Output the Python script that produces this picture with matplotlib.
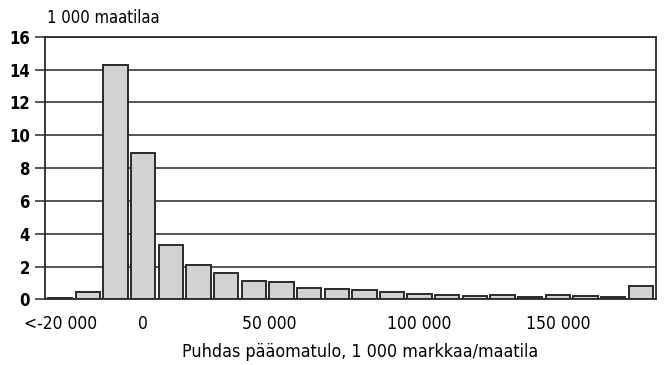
import matplotlib.pyplot as plt

# Puhdas pääomatulo -luokat (10 000 mk välein), maatiloja 1 000 kpl
bar_index = list(range(22))
farms = [0.09, 0.44, 14.3, 8.9, 3.3, 2.12, 1.63, 1.11, 1.05, 0.70, 0.64,
         0.60, 0.48, 0.36, 0.27, 0.20, 0.27, 0.18, 0.30, 0.22, 0.18, 0.80]
tick_pos = [0, 3, 7.55, 13, 18]
tick_labels = ["<-20 000", "0", "50 000", "100 000", "150 000"]
y_ticks = [0, 2, 4, 6, 8, 10, 12, 14, 16]

plt.rcParams['font.family'] = ['DejaVu Sans']
plt.rcParams['font.stretch'] = 'condensed'

fig = plt.figure(figsize=(6.65, 3.65), dpi=100)
ax = fig.add_axes([0.0677, 0.1795, 0.9188, 0.72])

ax.bar(bar_index, farms, width=0.88, color="#d2d2d2",
       edgecolor="#2a2a2a", linewidth=1.4, zorder=3)

ax.set_ylim(0, 16)
ax.set_xlim(-0.55, 21.55)
ax.set_yticks(y_ticks)
ax.set_yticklabels([str(v) for v in y_ticks], fontsize=12, fontweight="bold",
                   fontstretch="condensed")
ax.yaxis.grid(True, color="#3a3a3a", linewidth=1.2, zorder=0)
ax.tick_params(axis="y", length=7, width=1.2, color="#3a3a3a", pad=4)

ax.set_xticks(tick_pos)
ax.set_xticklabels(tick_labels, fontsize=12.5, fontstretch="condensed")
ax.tick_params(axis="x", length=0, pad=11)

for s in ax.spines.values():
    s.set_color("#2a2a2a")
    s.set_linewidth(1.3)

fig.text(0.07, 0.925, "1 000 maatilaa", fontsize=12, ha="left", va="bottom",
         fontstretch="condensed")
fig.text(0.541, 0.01, "Puhdas pääomatulo, 1 000 markkaa/maatila",
         fontsize=12.8, ha="center", va="bottom", fontstretch="condensed")

plt.savefig("out.png", dpi=100)
